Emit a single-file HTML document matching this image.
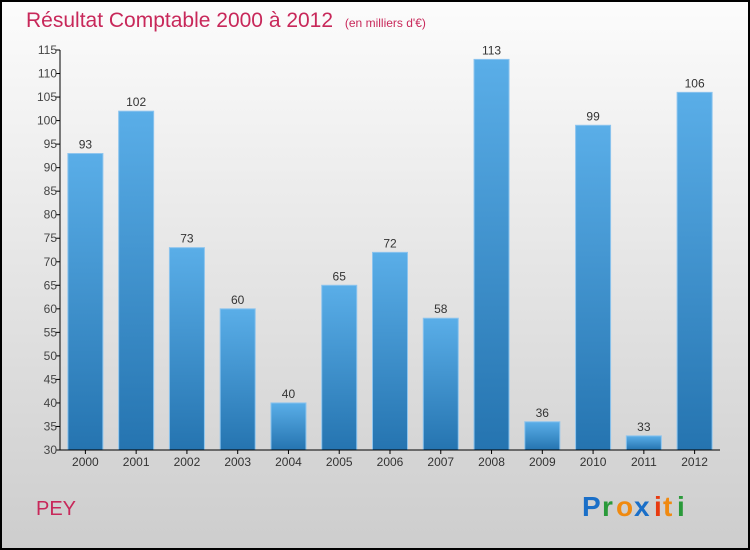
<!DOCTYPE html>
<html><head><meta charset="utf-8"><style>
body{margin:0;width:750px;height:550px;overflow:hidden}
svg{display:block;font-family:"Liberation Sans",sans-serif}
</style></head><body>
<svg width="750" height="550" xmlns="http://www.w3.org/2000/svg">
<defs>
<linearGradient id="bg" x1="0" y1="0" x2="0" y2="1"><stop offset="0" stop-color="#fcfcfc"/><stop offset="1" stop-color="#cdcdcd"/></linearGradient>
<linearGradient id="bar" x1="0" y1="0" x2="0" y2="1"><stop offset="0" stop-color="#5aaee8"/><stop offset="1" stop-color="#2574b0"/></linearGradient>
</defs>
<rect x="1" y="1" width="748" height="548" fill="url(#bg)" stroke="#000" stroke-width="2"/>
<text x="26" y="27" font-size="21" fill="#c8285a">Résultat Comptable 2000 à 2012 <tspan font-size="12" dx="6">(en milliers d'€)</tspan></text>
<text x="36" y="515" font-size="20" fill="#c8285a">PEY</text>
<g font-size="28" font-weight="bold">
<text x="582" y="516" fill="#1a6fc8">P</text><text x="602" y="516" fill="#2a9a3a">r</text><text x="616" y="516" fill="#f08a10">o</text><text x="634" y="516" fill="#1a6fc8">x</text><text x="654" y="516" fill="#e83a10">i</text><text x="663" y="516" fill="#f08a10">t</text><text x="677" y="516" fill="#2a9a3a">i</text>
</g>
<g id="plot"></g>
</svg>
<script>
const categories=["2000","2001","2002","2003","2004","2005","2006","2007","2008","2009","2010","2011","2012"];
const values=[93,102,73,60,40,65,72,58,113,36,99,33,106];
const yTicks=[30,35,40,45,50,55,60,65,70,75,80,85,90,95,100,105,110,115];
const NS="http://www.w3.org/2000/svg";
const x0=60,x1=720,yTop=50,yBot=450,yMin=30,yMax=115;
const band=(x1-x0)/categories.length;
const xc=i=>x0+band*(i+0.5);
const y=v=>yBot-(v-yMin)/(yMax-yMin)*(yBot-yTop);
const g=document.getElementById('plot');
function mk(t,a,txt){const e=document.createElementNS(NS,t);for(const k in a)e.setAttribute(k,a[k]);if(txt!=null)e.textContent=txt;g.appendChild(e);return e;}
values.forEach((v,i)=>{
 const r=mk('rect',{x:xc(i)-17.5,y:y(v),width:35,height:yBot-y(v),fill:'url(#bar)',stroke:'#8cc4ee','stroke-width':1});
 
 
 const t=mk('text',{x:xc(i),y:y(v)-5,'text-anchor':'middle','font-size':12,fill:'#333'},String(v));
 
 
 const xl=mk('text',{x:xc(i),y:466,'text-anchor':'middle','font-size':12,fill:'#333'},categories[i]);
 
 
 const tk=mk('line',{x1:xc(i),x2:xc(i),y1:yBot,y2:yBot+4,stroke:'#000'});
 
 
});
yTicks.forEach(v=>{
 const l=mk('line',{x1:x0-4,x2:x0,y1:y(v),y2:y(v),stroke:'#000'});
 
 
 const t=mk('text',{x:x0-3,y:y(v)+4,'text-anchor':'end','font-size':12,fill:'#444'},String(v));
 
 
});
const ya=mk('line',{x1:x0,x2:x0,y1:yTop,y2:yBot,stroke:'#000'});


const xa=mk('line',{x1:x0,x2:x1,y1:yBot,y2:yBot,stroke:'#000'});


</script>
</body></html>
